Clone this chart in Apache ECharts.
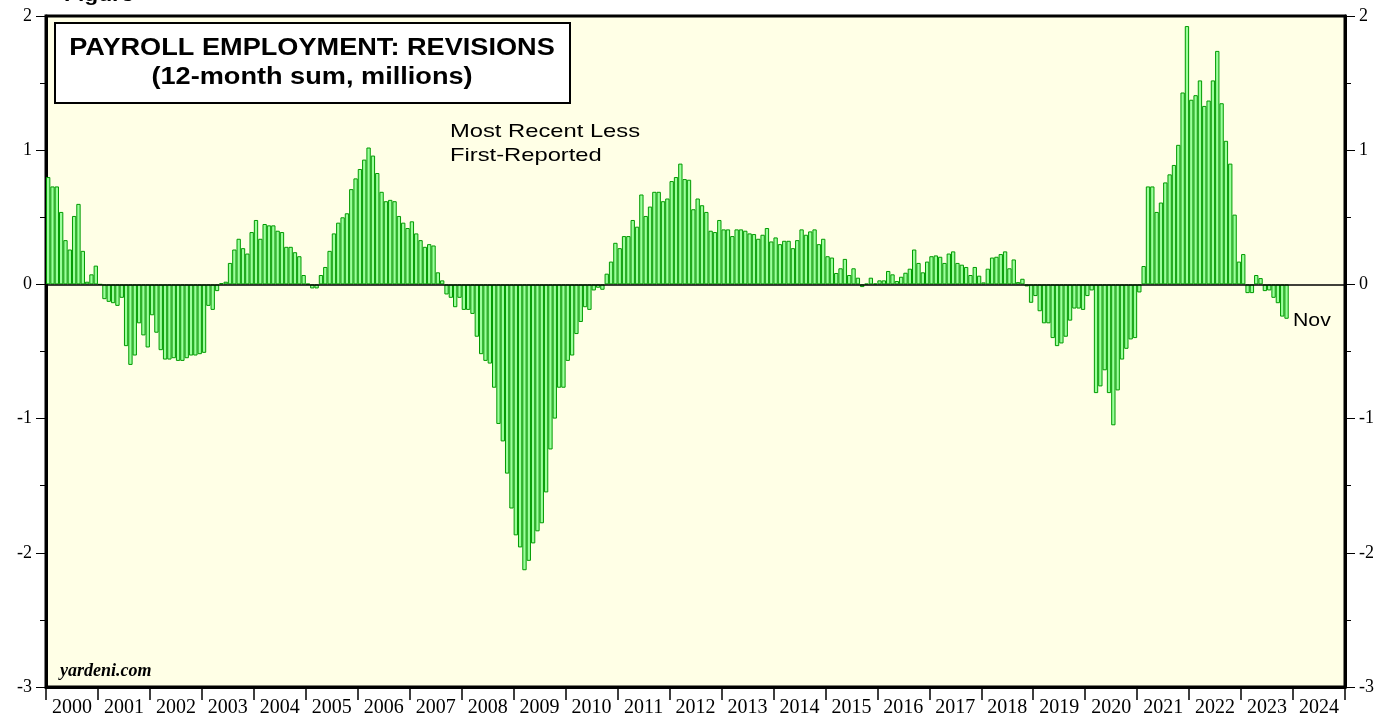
<!DOCTYPE html>
<html>
<head>
<meta charset="utf-8">
<script src="https://cdn.jsdelivr.net/npm/echarts@6/dist/echarts.min.js"></script>
<style>
html,body{margin:0;padding:0;background:#fff;}
#chart{width:1397px;height:719px;}
</style>
</head>
<body>
<div id="chart"></div>
<script>
// ---- Data ----
const years = ['2000','2001','2002','2003','2004','2005','2006','2007','2008','2009','2010','2011','2012','2013','2014','2015','2016','2017','2018','2019','2020','2021','2022','2023','2024'];
const yTicks = [-3, -2, -1, 0, 1, 2];

// 12-month sum of revisions (millions), monthly, Jan 2000 .. Nov 2023
const rev2000_2003 = [
  0.80, 0.73, 0.73, 0.54, 0.33, 0.26, 0.51, 0.60, 0.25, 0.02, 0.075, 0.14,
  0.00, -0.11, -0.13, -0.14, -0.16, -0.10, -0.46, -0.60, -0.53, -0.29, -0.38, -0.47,
  -0.23, -0.36, -0.49, -0.56, -0.56, -0.55, -0.57, -0.57, -0.55, -0.53, -0.53, -0.52,
  -0.51, -0.16, -0.19, -0.05, 0.01, 0.02, 0.16, 0.26, 0.34, 0.27, 0.23, 0.39
];
const rev2004_2007 = [
  0.48, 0.34, 0.45, 0.44, 0.44, 0.40, 0.39, 0.28, 0.28, 0.24, 0.21, 0.07,
  0.005, -0.03, -0.03, 0.07, 0.13, 0.25, 0.38, 0.46, 0.50, 0.53, 0.71, 0.79,
  0.86, 0.93, 1.02, 0.96, 0.83, 0.69, 0.62, 0.63, 0.62, 0.51, 0.46, 0.42,
  0.47, 0.38, 0.33, 0.28, 0.30, 0.29, 0.09, 0.03, -0.075, -0.10, -0.17, -0.10
];
const rev2008_2011 = [
  -0.19, -0.19, -0.22, -0.39, -0.52, -0.57, -0.59, -0.77, -1.04, -1.17, -1.41, -1.67,
  -1.87, -1.96, -2.13, -2.06, -1.93, -1.84, -1.78, -1.55, -1.23, -1.00, -0.77, -0.77,
  -0.57, -0.53, -0.37, -0.28, -0.17, -0.19, -0.045, -0.025, -0.04, 0.08, 0.17, 0.31,
  0.27, 0.36, 0.36, 0.48, 0.43, 0.67, 0.51, 0.58, 0.69, 0.69, 0.62, 0.64
];
const rev2012_2015 = [
  0.77, 0.80, 0.90, 0.785, 0.78, 0.56, 0.64, 0.59, 0.54, 0.40, 0.39, 0.48,
  0.41, 0.41, 0.36, 0.41, 0.41, 0.40, 0.38, 0.375, 0.34, 0.37, 0.42, 0.32,
  0.35, 0.30, 0.325, 0.325, 0.27, 0.33, 0.41, 0.37, 0.395, 0.41, 0.30, 0.34,
  0.21, 0.20, 0.085, 0.12, 0.19, 0.07, 0.12, 0.05, -0.02, 0.005, 0.05, 0.007
];
const rev2016_2019 = [
  0.03, 0.03, 0.10, 0.075, 0.025, 0.057, 0.087, 0.117, 0.26, 0.16, 0.09, 0.17,
  0.21, 0.216, 0.206, 0.16, 0.23, 0.246, 0.16, 0.147, 0.13, 0.07, 0.13, 0.065,
  0.015, 0.117, 0.20, 0.206, 0.226, 0.246, 0.12, 0.186, 0.017, 0.042, -0.015, -0.137,
  -0.087, -0.20, -0.29, -0.29, -0.40, -0.46, -0.44, -0.39, -0.27, -0.18, -0.18, -0.19
];
const rev2020_2023 = [
  -0.087, -0.045, -0.81, -0.76, -0.64, -0.81, -1.05, -0.79, -0.56, -0.48, -0.41, -0.40,
  -0.06, 0.137, 0.73, 0.73, 0.54, 0.61, 0.76, 0.82, 0.89, 1.04, 1.43, 1.925,
  1.376, 1.41, 1.52, 1.33, 1.37, 1.52, 1.74, 1.35, 1.07, 0.90, 0.52, 0.17,
  0.226, -0.065, -0.065, 0.07, 0.047, -0.05, -0.045, -0.10, -0.14, -0.24, -0.256
];
const revisions = [].concat(rev2000_2003, rev2004_2007, rev2008_2011, rev2012_2015, rev2016_2019, rev2020_2023);
const monthNames = ['Jan','Feb','Mar','Apr','May','Jun','Jul','Aug','Sep','Oct','Nov','Dec'];
const months = [];
years.forEach(y => monthNames.forEach(m => months.push(m + ' ' + y)));

const titleLines = ['PAYROLL EMPLOYMENT: REVISIONS', '(12-month sum, millions)'];
const noteLines = ['Most Recent Less', 'First-Reported'];
const lastLabel = 'Nov';

// ---- Chart ----
const chart = echarts.init(document.getElementById('chart'), null, {renderer: 'canvas'});
const serif = '"Liberation Serif", "DejaVu Serif", serif';
const sans = '"Liberation Sans", Arial, sans-serif';
const G = {left: 46, right: 52, top: 16, bottom: 32};

const yAxisCommon = {
  type: 'value', min: -3, max: 2, interval: 1,
  axisLine: {show: true, lineStyle: {color: '#000', width: 3}},
  axisTick: {show: true, length: 10, lineStyle: {color: '#000', width: 1}},
  minorTick: {show: true, splitNumber: 2, length: 6, lineStyle: {color: '#000', width: 1}},
  splitLine: {show: false},
  axisLabel: {color: '#000', fontFamily: serif, fontSize: 18, margin: 14}
};

chart.setOption({
  animation: false,
  backgroundColor: '#ffffff',
  grid: {left: G.left, right: G.right, top: G.top, bottom: G.bottom, show: true,
         backgroundColor: '#FFFFE6', borderColor: '#000', borderWidth: 3, containLabel: false},
  xAxis: [
    {
      type: 'category', data: years, boundaryGap: true, position: 'bottom',
      axisLine: {show: true, onZero: false, lineStyle: {color: '#000', width: 3}},
      axisTick: {show: true, interval: 0, length: 13, lineStyle: {color: '#000', width: 1.5}},
      axisLabel: {interval: 0, color: '#000', fontFamily: serif, fontSize: 20, margin: 11},
      splitLine: {show: false}
    },
    {
      type: 'category', data: months, boundaryGap: true, show: false,
      axisLine: {onZero: false}
    }
  ],
  yAxis: [
    Object.assign({position: 'left'}, yAxisCommon),
    Object.assign({position: 'right'}, yAxisCommon)
  ],
  series: [{
    type: 'bar', xAxisIndex: 1, yAxisIndex: 0,
    data: revisions,
    barCategoryGap: '0%',
    itemStyle: {color: '#9cff9c', borderColor: '#009a00', borderWidth: 1},
    markLine: {
      silent: true, symbol: 'none', label: {show: false},
      lineStyle: {color: '#000', width: 1.5, type: 'solid'},
      data: [{yAxis: 0}]
    }
  }],
  graphic: [
    {type: 'text', x: 64, y: 5, scaleX: 1.2,
     style: {text: 'Figure', font: 'bold 19px ' + sans, fill: '#000', textVerticalAlign: 'bottom'}},
    {type: 'rect', shape: {x: 55, y: 23, width: 515, height: 80},
     style: {fill: '#fff', stroke: '#000', lineWidth: 2}, z: 10},
    {type: 'text', x: 312, y: 49, z: 11, scaleX: 1.18,
     style: {text: titleLines[0], font: 'bold 23px ' + sans, fill: '#000', textAlign: 'center', textVerticalAlign: 'middle'}},
    {type: 'text', x: 312, y: 78, z: 11, scaleX: 1.18,
     style: {text: titleLines[1], font: 'bold 23px ' + sans, fill: '#000', textAlign: 'center', textVerticalAlign: 'middle'}},
    {type: 'text', x: 450, y: 132, z: 11, scaleX: 1.25,
     style: {text: noteLines[0], font: '19px ' + sans, fill: '#000', textVerticalAlign: 'middle'}},
    {type: 'text', x: 450, y: 156, z: 11, scaleX: 1.25,
     style: {text: noteLines[1], font: '19px ' + sans, fill: '#000', textVerticalAlign: 'middle'}},
    {type: 'text', x: 1293, y: 321, z: 11, scaleX: 1.18,
     style: {text: lastLabel, font: '18px ' + sans, fill: '#000', textVerticalAlign: 'middle'}},
    {type: 'text', x: 60, y: 671, z: 11,
     style: {text: 'yardeni.com', font: 'italic bold 18px ' + serif, fill: '#000', textVerticalAlign: 'middle'}}
  ]
});
</script>
</body>
</html>
